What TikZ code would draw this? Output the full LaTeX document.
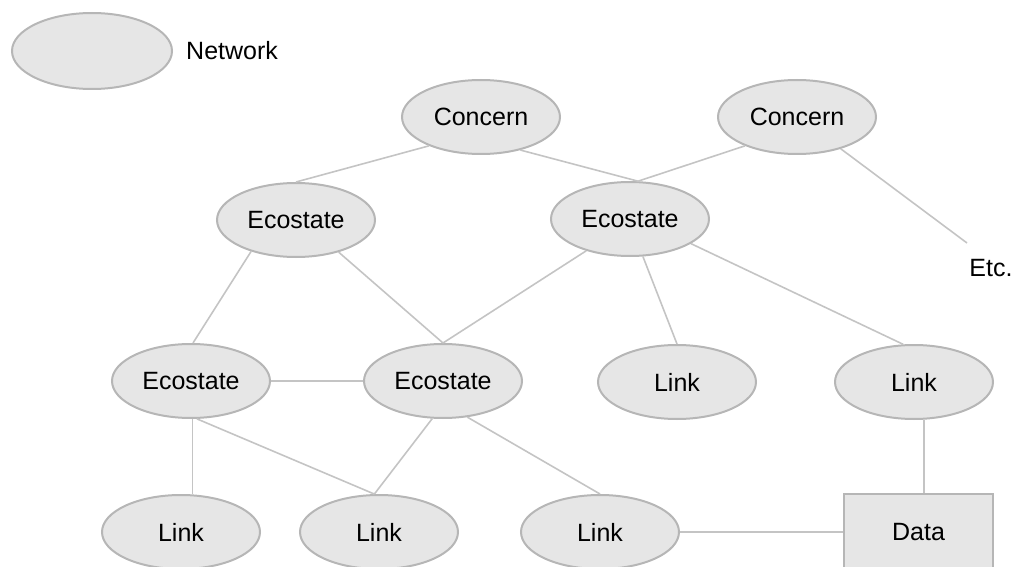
\documentclass[tikz,border=0pt]{standalone}
\usepackage{fontspec}
\setmainfont{Liberation Sans}
\usetikzlibrary{shapes.geometric}

\definecolor{nodefill}{HTML}{E6E6E6}
\definecolor{nodeline}{HTML}{B6B6B6}
\definecolor{edgeline}{HTML}{C4C4C4}

\tikzset{
  net/.style={ellipse, draw=nodeline, fill=nodefill, line width=2pt,
    minimum width=158pt, minimum height=74pt, inner sep=0pt,
    font=\fontsize{25}{30}\selectfont},
  databox/.style={rectangle, draw=nodeline, fill=nodefill, line width=2pt,
    minimum width=149pt, minimum height=76pt, inner sep=0pt,
    font=\fontsize{25}{30}\selectfont},
  plain/.style={inner sep=0pt, font=\fontsize{25}{30}\selectfont},
  edge/.style={draw=edgeline, line width=1.6pt}
}

\begin{document}
\begin{tikzpicture}[x=1pt, y=-1pt]
  \useasboundingbox (0,0) rectangle (1013,567);

  % legend
  \node[net, minimum width=160pt, minimum height=76pt] (legend) at (92,51) {};
  \node[plain, anchor=west] (legendtext) at (186,51) {Network};

  % concerns
  \node[net] (c1) at (481,117) {Concern};
  \node[net] (c2) at (797,117) {Concern};

  % ecostates
  \node[net] (e1) at (296,220) {Ecostate};
  \node[net] (e2) at (630,219) {Ecostate};
  \node[net] (e3) at (191,381) {Ecostate};
  \node[net] (e4) at (443,381) {Ecostate};

  % links
  \node[net] (l1) at (677,382) {Link};
  \node[net] (l2) at (914,382) {Link};
  \node[net] (l3) at (181,532) {Link};
  \node[net] (l4) at (379,532) {Link};
  \node[net] (l5) at (600,532) {Link};

  % data store
  \node[databox] (data) at (918.5,532) {Data};

  % continuation
  \node[plain] (etc) at (991,268) {Etc.};
  \coordinate (etcend) at (967,243);

  % connectors
  \draw[edge] (c1.209) -- (e1.90);
  \draw[edge] (c1.320) -- (e2.78);
  \draw[edge] (c2.209) -- (e2.78);
  \draw[edge] (c2.324) -- (etcend);

  \draw[edge] (e1.215) -- (e3.87);
  \draw[edge] (e1.323) -- (e4.90);
  \draw[edge] (e2.216) -- (e4.90);
  \draw[edge] (e2.289) -- (l1.90);
  \draw[edge] (e2.338) -- (l2.106);

  \draw[edge] (e3.east) -- (e4.west);
  \draw[edge] (e3.272) -- (e3.272 |- l3.north);
  \draw[edge] (e3.279) -- (l4.97);
  \draw[edge] (e4.254) -- (l4.97);
  \draw[edge] (e4.304) -- (l5.90);

  \draw[edge] (l2.285) -- (l2.285 |- data.north);
  \draw[edge] (l5.east) -- (data.west);
\end{tikzpicture}
\end{document}
